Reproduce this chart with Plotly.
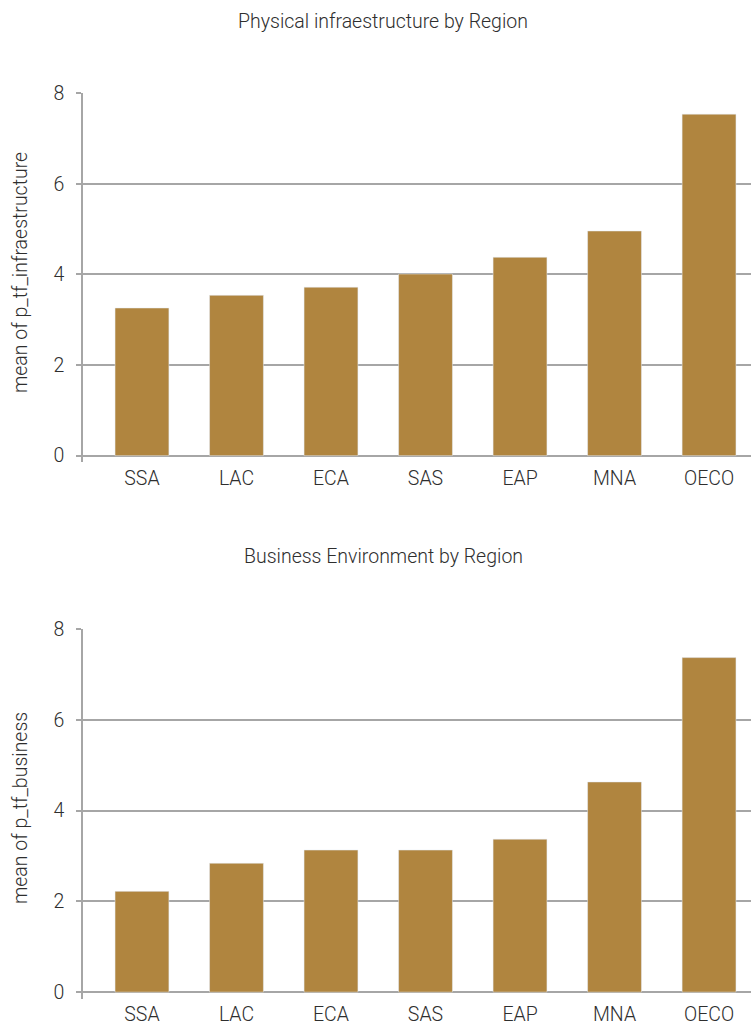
import plotly.graph_objects as go

regions = ["SSA", "LAC", "ECA", "SAS", "EAP", "MNA", "OECO"]
infra_values = [3.26, 3.54, 3.72, 4.01, 4.38, 4.96, 7.54]
business_values = [2.22, 2.84, 3.13, 3.13, 3.37, 4.63, 7.37]
titles = ["Physical infraestructure by Region", "Business Environment by Region"]
ytitles = ["mean of p_tf_infraestructure", "mean of p_tf_business"]
ytick_vals = [0, 2, 4, 6, 8]

BAR = "#B0853F"
GRID = "#a6a6a6"
TXT = "#2e2e2e"
FONT = "Roboto"
FS = 19.5
WT = 300

W, H = 751, 1025


def px_x(p):
    return p / W


def px_y(p):
    return 1 - p / H


x_dom = [px_x(83), 1.0]
top_dom = [px_y(462), px_y(93.3)]
bot_dom = [px_y(998.5), px_y(629)]

fig = go.Figure()
fig.add_trace(go.Bar(x=regions, y=infra_values, marker_color=BAR, xaxis="x", yaxis="y", showlegend=False))
fig.add_trace(go.Bar(x=regions, y=business_values, marker_color=BAR, xaxis="x2", yaxis="y2", showlegend=False))

tf = dict(size=FS, color=TXT, family=FONT, weight=WT)
common_x = dict(type="category", range=[-0.624, 6.444], showgrid=False, showline=False, ticks="",
                zeroline=False, tickfont=tf, ticklabelstandoff=2,
                automargin=False, fixedrange=True)
common_y = dict(range=[-0.14, 8.0], tickvals=ytick_vals, showgrid=True, gridcolor=GRID, gridwidth=1.5,
                zeroline=True, zerolinecolor=GRID, zerolinewidth=1.5,
                showline=True, linecolor=GRID, linewidth=1.5, ticks="outside", ticklen=5,
                tickcolor=GRID, tickwidth=1.5, ticklabelstandoff=8,
                tickfont=tf, automargin=False)

fig.update_layout(
    width=W, height=H,
    margin=dict(l=0, r=0, t=0, b=0),
    paper_bgcolor="white", plot_bgcolor="white",
    bargap=0.43,
    font=dict(family=FONT, color=TXT, weight=WT),
    xaxis=dict(domain=x_dom, anchor="y", **common_x),
    yaxis=dict(domain=top_dom, anchor="x", **common_y),
    xaxis2=dict(domain=x_dom, anchor="y2", **common_x),
    yaxis2=dict(domain=bot_dom, anchor="x2", **common_y),
)

annots = []
for t, ypx in zip(titles, [21, 556]):
    annots.append(dict(text=t, x=px_x(383), y=px_y(ypx), xref="paper", yref="paper",
                       xanchor="center", yanchor="middle", showarrow=False, font=tf))
for t, ypx in zip(ytitles, [273, 808]):
    annots.append(dict(text=t, x=px_x(20), y=px_y(ypx), xref="paper", yref="paper",
                       xanchor="center", yanchor="middle", textangle=-90, showarrow=False, font=tf))
fig.update_layout(annotations=annots)

fig.write_html(
    "out.html",
    config={"displayModeBar": False},
    post_script=(
        "document.body.style.margin='0';"
        "document.body.style.overflow='hidden';"
        "document.documentElement.style.overflow='hidden';"
    ),
)
